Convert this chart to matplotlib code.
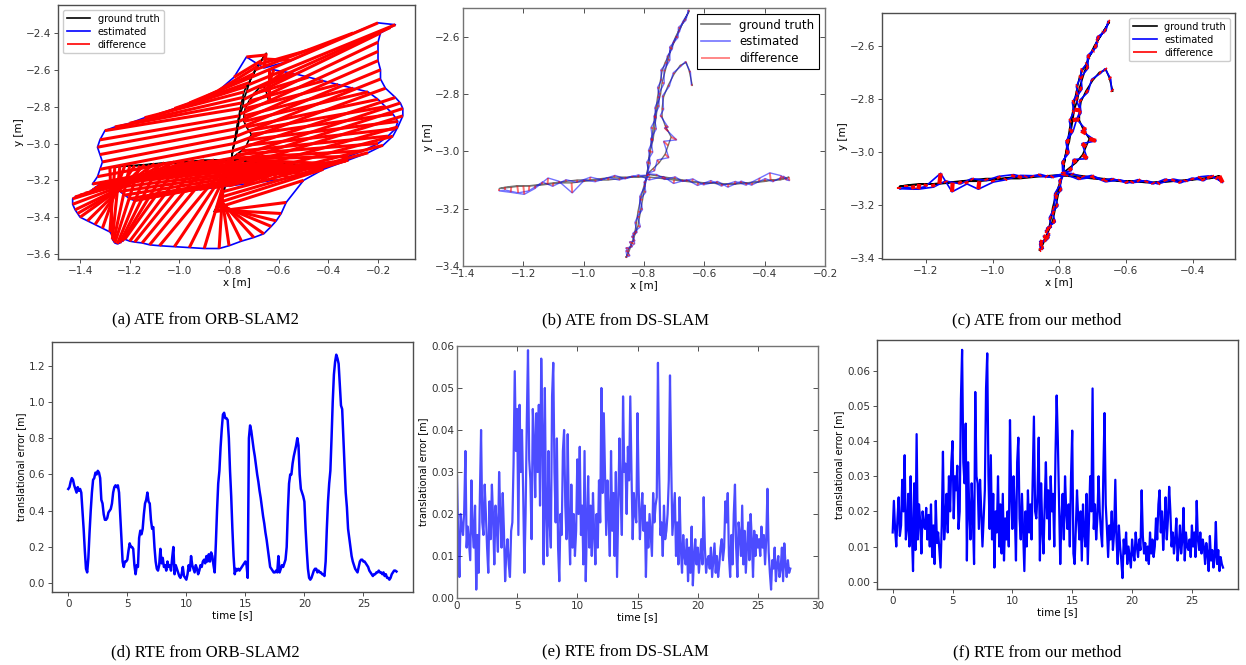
import numpy as np
import matplotlib.pyplot as plt
from matplotlib.collections import LineCollection

# ground truth trajectory shared by the three ATE plots [m]
# order: up the y-arm, down to its far end, back to the centre,
# out to the left end, across to the right end, back, then the side loop
gt_x = [-0.79, -0.785, -0.78, -0.775, -0.77, -0.765, -0.76, -0.755, -0.75, -0.745,
        -0.74, -0.73, -0.72, -0.71, -0.70, -0.685, -0.67, -0.655,
        -0.65, -0.665, -0.68, -0.695, -0.71, -0.72, -0.73, -0.74, -0.745, -0.755,
        -0.76, -0.765, -0.77, -0.78, -0.785, -0.79, -0.795, -0.80, -0.805, -0.81,
        -0.815, -0.82, -0.83, -0.84, -0.85, -0.86,
        -0.855, -0.85, -0.845, -0.84, -0.835, -0.835, -0.83, -0.825, -0.82, -0.81, -0.80, -0.79,
        -0.84, -0.88, -0.92, -0.96, -1.00, -1.04, -1.08, -1.12, -1.16, -1.20, -1.24, -1.28,
        -1.26, -1.22, -1.18, -1.14, -1.10, -1.06, -1.02, -0.98, -0.94, -0.90,
        -0.86, -0.82, -0.78, -0.74, -0.70, -0.66, -0.62, -0.58, -0.54, -0.50,
        -0.46, -0.42, -0.38, -0.35, -0.33, -0.32,
        -0.34, -0.37, -0.40, -0.44, -0.48, -0.52, -0.56, -0.60, -0.64, -0.67, -0.70, -0.73, -0.76, -0.79,
        -0.77, -0.75, -0.73, -0.72, -0.71, -0.72, -0.73, -0.74, -0.74, -0.735,
        -0.72, -0.70, -0.68, -0.66, -0.65, -0.64]
gt_y = [-3.08, -3.04, -3.00, -2.96, -2.92, -2.88, -2.85, -2.81, -2.78, -2.75,
        -2.72, -2.69, -2.67, -2.64, -2.62, -2.58, -2.55, -2.52,
        -2.51, -2.54, -2.57, -2.60, -2.64, -2.68, -2.72, -2.76, -2.80, -2.84,
        -2.88, -2.92, -2.96, -3.00, -3.04, -3.08, -3.11, -3.14, -3.17, -3.20,
        -3.23, -3.26, -3.29, -3.32, -3.35, -3.37,
        -3.36, -3.34, -3.33, -3.32, -3.31, -3.30, -3.28, -3.25, -3.21, -3.16, -3.12, -3.085,
        -3.09, -3.095, -3.10, -3.10, -3.105, -3.11, -3.11, -3.115, -3.12, -3.12, -3.125, -3.13,
        -3.125, -3.12, -3.12, -3.115, -3.11, -3.105, -3.10, -3.10, -3.095, -3.09,
        -3.09, -3.09, -3.09, -3.095, -3.10, -3.105, -3.11, -3.11, -3.115, -3.115,
        -3.11, -3.105, -3.10, -3.10, -3.095, -3.09,
        -3.095, -3.10, -3.105, -3.11, -3.11, -3.115, -3.11, -3.11, -3.105, -3.10, -3.095, -3.09, -3.085, -3.08,
        -3.06, -3.04, -3.01, -2.98, -2.95, -2.93, -2.91, -2.88, -2.85, -2.81,
        -2.77, -2.73, -2.70, -2.69, -2.72, -2.77]

# ORB-SLAM2 estimate [m]
orb_x = [-1.35, -1.33, -1.32, -1.31, -1.32, -1.33, -1.32, -1.30, -1.26, -1.20,
         -1.14, -1.08, -1.02, -0.96, -0.90, -0.84, -0.78, -0.73,
         -0.66, -0.55, -0.42, -0.30, -0.20, -0.13, -0.15, -0.19, -0.20, -0.20,
         -0.20, -0.19, -0.19, -0.17, -0.13, -0.11, -0.10, -0.10, -0.12, -0.14,
         -0.18, -0.24, -0.32, -0.42, -0.50, -0.57,
         -0.59, -0.61, -0.63, -0.66, -0.70, -0.75, -0.80, -0.84, -0.90, -0.96, -1.02, -1.08,
         -1.12, -1.15, -1.18, -1.20, -1.22, -1.23, -1.24, -1.25, -1.26, -1.265, -1.27, -1.27,
         -1.28, -1.31, -1.34, -1.37, -1.40, -1.41, -1.42, -1.43, -1.43, -1.42,
         -1.40, -1.38, -1.36, -1.35, -1.34, -1.33, -1.32, -1.30, -1.28, -1.26,
         -1.24, -1.22, -1.20, -1.18, -1.15, -1.12,
         -1.05, -0.98, -0.92, -0.86, -0.80, -0.74, -0.68, -0.62, -0.56, -0.50, -0.44, -0.38, -0.32, -0.26,
         -0.20, -0.16, -0.13, -0.12, -0.14, -0.17, -0.20, -0.24, -0.30, -0.36,
         -0.42, -0.48, -0.54, -0.58, -0.62, -0.64]
orb_y = [-3.22, -3.18, -3.14, -3.10, -3.06, -3.02, -2.98, -2.93, -2.91, -2.89,
         -2.86, -2.84, -2.81, -2.78, -2.75, -2.71, -2.64, -2.53,
         -2.59, -2.55, -2.47, -2.40, -2.345, -2.355, -2.37, -2.40, -2.45, -2.50,
         -2.55, -2.60, -2.65, -2.70, -2.75, -2.78, -2.81, -2.85, -2.91, -2.96,
         -3.01, -3.05, -3.09, -3.14, -3.20, -3.32,
         -3.38, -3.42, -3.45, -3.49, -3.51, -3.53, -3.555, -3.57, -3.57, -3.565, -3.56, -3.555,
         -3.55, -3.54, -3.535, -3.53, -3.52, -3.53, -3.54, -3.545, -3.54, -3.53, -3.52, -3.50,
         -3.48, -3.46, -3.44, -3.42, -3.40, -3.38, -3.36, -3.33, -3.30, -3.29,
         -3.28, -3.27, -3.26, -3.25, -3.24, -3.23, -3.22, -3.21, -3.22, -3.24,
         -3.26, -3.28, -3.30, -3.31, -3.30, -3.28,
         -3.27, -3.26, -3.25, -3.24, -3.23, -3.22, -3.21, -3.20, -3.19, -3.17, -3.14, -3.11, -3.07, -3.04,
         -3.00, -2.96, -2.92, -2.88, -2.84, -2.80, -2.76, -2.72, -2.70, -2.68,
         -2.66, -2.64, -2.62, -2.61, -2.60, -2.60]

# DS-SLAM estimate: deviation from ground truth [mm]
ds_dx = [0, 6, -5, 4, -7, 5, -4, 6, -5, 3, -4, 5, -3, 4, -3, 3, -2, 0,
         -3, 4, -6, 8, -5, 6, -4, 7, -6, 5, -7, 6, -8, 9, -6, 8, -5, 6, -7, 5, -6, 8, -7, 9, -10, 4,
         8, -10, 6, -8, 5, -6, 7, -5, 6, -4, 3, 0,
         2, -3, 3, -2, 3, 2, -3, 2, -2, 3, -2, 0,
         0, 3, -2, 4, -3, 2, -4, 3, -2, 4, -3, 2, -3, 4, -2, 3, -3, 2, -4, 3, -2, 4, -3, 5, 3, 2,
         3, -3, 2, -4, 3, -2, 4, -3, 2, -3, 4, -2, 3, 0,
         5, -6, 12, -15, 18, -12, 10, -6, 5, -4, 4, -3, 3, -3, 4, -3]
ds_dy = [2, -3, 4, -2, 3, -4, 2, -3, 3, -2, 4, -3, 2, -3, 2, -2, 2, 0,
         3, -3, 2, -3, 4, -2, 3, -3, 2, -4, 3, -2, 4, -3, 2, -3, 3, -2, 3, -3, 2, -3, 4, -2, 3, 2,
         -4, 3, -3, 4, -2, 3, -3, 2, -2, 3, -2, 2,
         4, -5, 8, -6, 5, -35, 6, 22, -10, -30, -18, -8,
         -10, -25, -18, 8, -12, 6, -8, 10, -4, 6, -6, 8, -10, 7, -12, 6, -9, 8, -6, 10, -8, 12, 25, 15, -5, -12,
         8, -6, 10, -8, 6, -10, 5, -7, 9, -5, 6, -8, 4, 2,
         -8, 10, -12, 15, -10, 12, -6, 5, -4, 3, -3, 4, -3, 3, -4, 3]

# our method: deviation from ground truth [mm]
our_dx = [0, -6, 5, -5, 6, -5, 4, -6, 5, -4, 4, -5, 3, -4, 3, -3, 2, 0,
          -4, 5, -7, 8, -6, 7, -5, 8, -6, 18, 12, 6, -8, 9, -7, 8, -6, 7, -8, 6, -7, 8, -8, 9, -9, 4,
          7, -9, 7, -8, 6, -7, 6, -5, 5, -4, 3, 0,
          3, -2, 3, -3, 2, -3, 3, -2, 4, -2, 3, 0,
          0, -3, 3, -2, 4, -3, 2, -4, 3, -2, 3, -3, 2, -3, 4, -2, 3, -3, 2, -4, 3, -2, 3, -3, 5, 10,
          -3, 3, -2, 4, -3, 2, -4, 3, -2, 3, -3, 2, -2, 0,
          6, -8, 14, -12, 20, -14, 10, -8, 5, -4, 6, -3, 4, -3, 4, -3]
our_dy = [3, -3, 3, -3, 3, -3, 3, -3, 3, -3, 3, -3, 3, -3, 3, -3, 2, 0,
          3, -3, 3, -3, 3, -3, 3, -3, 3, -3, 3, -3, 3, -3, 3, -3, 3, -3, 3, -3, 3, -3, 3, -3, 3, 2,
          -3, 3, -3, 3, -3, 3, -3, 3, -2, 3, -2, 2,
          -4, 6, 12, -5, -8, -30, -10, -35, 40, -10, -15, -8,
          -8, -20, -12, 6, -10, 5, -7, 8, 10, -5, 6, -6, 5, -8, 6, -7, 5, -6, 7, -5, 8, -6, 7, 10, -5, -25,
          6, -8, 7, -6, 8, -5, 6, -7, 5, -6, 7, -5, 4, 2,
          -10, 12, -15, 12, -8, 10, -6, 4, -3, 5, -4, 4, -3, 4, -4, 4]

# relative translational error, one value every 0.1 s
rte_orb = [0.52, 0.53, 0.56, 0.58, 0.57, 0.54, 0.52, 0.50, 0.53, 0.51,
           0.52, 0.50, 0.40, 0.30, 0.18, 0.08, 0.06, 0.14, 0.28, 0.40,
           0.50, 0.57, 0.58, 0.61, 0.60, 0.62, 0.61, 0.58, 0.46, 0.44,
           0.38, 0.35, 0.35, 0.36, 0.39, 0.40, 0.41, 0.44, 0.50, 0.53,
           0.54, 0.53, 0.54, 0.50, 0.38, 0.25, 0.12, 0.09, 0.12, 0.12,
           0.13, 0.18, 0.22, 0.20, 0.20, 0.19, 0.10, 0.05, 0.10, 0.09,
           0.25, 0.29, 0.27, 0.30, 0.38, 0.44, 0.46, 0.50, 0.45, 0.44,
           0.35, 0.30, 0.31, 0.20, 0.12, 0.08, 0.07, 0.10, 0.19, 0.11,
           0.14, 0.09, 0.10, 0.07, 0.12, 0.09, 0.10, 0.07, 0.14, 0.20,
           0.05, 0.10, 0.08, 0.06, 0.04, 0.03, 0.05, 0.09, 0.04, 0.03,
           0.02, 0.05, 0.10, 0.07, 0.15, 0.10, 0.08, 0.06, 0.10, 0.08,
           0.05, 0.07, 0.10, 0.09, 0.12, 0.13, 0.11, 0.15, 0.12, 0.16,
           0.12, 0.17, 0.15, 0.10, 0.06, 0.22, 0.40, 0.55, 0.62, 0.75,
           0.85, 0.93, 0.94, 0.91, 0.91, 0.90, 0.80, 0.62, 0.48, 0.30,
           0.15, 0.05, 0.08, 0.07, 0.08, 0.07, 0.08, 0.09, 0.10, 0.11,
           0.12, 0.10, 0.03, 0.80, 0.87, 0.84, 0.79, 0.74, 0.70, 0.65,
           0.60, 0.56, 0.51, 0.47, 0.42, 0.37, 0.33, 0.28, 0.24, 0.19,
           0.14, 0.09, 0.08, 0.07, 0.06, 0.06, 0.07, 0.06, 0.15, 0.06,
           0.08, 0.10, 0.09, 0.11, 0.13, 0.20, 0.40, 0.55, 0.60, 0.60,
           0.66, 0.70, 0.73, 0.76, 0.80, 0.76, 0.60, 0.52, 0.50, 0.48,
           0.45, 0.30, 0.18, 0.08, 0.03, 0.02, 0.03, 0.05, 0.07, 0.08,
           0.08, 0.06, 0.07, 0.06, 0.06, 0.05, 0.05, 0.04, 0.12, 0.30,
           0.45, 0.55, 0.62, 0.80, 1.00, 1.15, 1.22, 1.26, 1.24, 1.21,
           1.10, 0.98, 0.96, 0.80, 0.65, 0.50, 0.42, 0.30, 0.25, 0.20,
           0.15, 0.12, 0.10, 0.08, 0.07, 0.06, 0.09, 0.12, 0.13, 0.13,
           0.12, 0.12, 0.11, 0.10, 0.09, 0.07, 0.06, 0.05, 0.04, 0.05,
           0.05, 0.06, 0.06, 0.07, 0.06, 0.06, 0.05, 0.06, 0.04, 0.05,
           0.03, 0.03, 0.02, 0.03, 0.05, 0.06, 0.07, 0.07, 0.065]

rte_ds_mm = [29, 14, 5, 20, 17, 15, 21, 35, 12, 17,
             13, 9, 28, 16, 12, 22, 2, 15, 6, 24,
             40, 18, 15, 27, 20, 12, 6, 23, 14, 27,
             19, 8, 22, 17, 11, 30, 20, 12, 25, 16,
             4, 11, 14, 8, 5, 16, 18, 32, 54, 35,
             45, 15, 46, 30, 40, 25, 6, 20, 42, 59,
             33, 28, 14, 45, 38, 24, 44, 30, 46, 22,
             57, 40, 8, 50, 20, 10, 35, 18, 12, 48,
             56, 30, 18, 38, 12, 4, 20, 15, 35, 40,
             22, 14, 39, 18, 8, 27, 12, 20, 10, 16,
             33, 20, 36, 15, 22, 8, 35, 4, 18, 29,
             12, 22, 10, 25, 15, 8, 20, 12, 28, 18,
             50, 25, 44, 30, 15, 28, 20, 10, 35, 16,
             25, 10, 30, 5, 22, 38, 25, 15, 48, 30,
             32, 20, 36, 28, 48, 30, 14, 25, 20, 18,
             44, 26, 14, 20, 25, 16, 22, 5, 18, 12,
             20, 15, 10, 25, 18, 22, 24, 56, 30, 15,
             18, 10, 22, 14, 16, 20, 28, 53, 32, 15,
             20, 25, 10, 18, 8, 24, 12, 6, 15, 10,
             8, 14, 4, 12, 6, 17, 3, 10, 14, 8,
             12, 6, 10, 14, 8, 24, 12, 6, 9, 10,
             7, 12, 5, 9, 13, 6, 10, 5, 8, 12,
             14, 9, 12, 23, 18, 25, 10, 5, 15, 8,
             20, 27, 12, 5, 18, 15, 10, 22, 8, 16,
             6, 12, 18, 9, 20, 14, 5, 16, 10, 15,
             12, 14, 10, 17, 12, 15, 8, 14, 26, 11,
             6, 2, 9, 7, 12, 4, 8, 10, 5, 7,
             12, 4, 13, 8, 5, 9, 6, 7]

rte_our_mm = [14, 23, 15, 10, 18, 24, 13, 16, 29, 20,
              36, 12, 15, 25, 10, 30, 14, 3, 28, 9,
              42, 12, 22, 17, 8, 20, 16, 15, 21, 12,
              19, 10, 22, 7, 16, 5, 23, 11, 14, 9,
              4, 16, 37, 12, 18, 25, 14, 30, 20, 34,
              40, 18, 30, 26, 33, 15, 20, 52, 66, 34,
              28, 45, 6, 34, 20, 12, 28, 18, 5, 54,
              30, 28, 15, 29, 20, 10, 18, 26, 55, 65,
              30, 15, 36, 12, 25, 4, 20, 14, 30, 10,
              22, 8, 25, 6, 18, 12, 20, 10, 46, 25,
              15, 30, 20, 6, 34, 41, 18, 12, 25, 14,
              3, 20, 10, 26, 14, 22, 12, 30, 47, 20,
              18, 25, 41, 6, 28, 15, 8, 22, 34, 18,
              26, 12, 30, 20, 25, 10, 36, 53, 40, 22,
              5, 18, 25, 12, 30, 20, 15, 22, 10, 30,
              43, 8, 5, 15, 26, 18, 12, 20, 6, 22,
              14, 10, 25, 5, 18, 30, 20, 55, 15, 22,
              12, 18, 30, 20, 14, 10, 31, 48, 22, 15,
              7, 16, 12, 20, 9, 14, 29, 12, 5, 16,
              10, 6, 1, 12, 8, 14, 5, 10, 7, 4,
              12, 8, 6, 14, 10, 7, 12, 9, 26, 13,
              8, 11, 6, 10, 5, 14, 8, 12, 7, 10,
              18, 12, 22, 26, 14, 20, 9, 16, 24, 12,
              18, 27, 20, 10, 14, 8, 12, 18, 6, 10,
              16, 8, 12, 21, 6, 14, 10, 9, 12, 7,
              16, 10, 14, 7, 23, 12, 9, 14, 8, 12,
              10, 5, 11, 8, 3, 13, 6, 9, 4, 7,
              17, 5, 9, 3, 7, 5, 4]

captions = ['(a) ATE from ORB-SLAM2', '(b) ATE from DS-SLAM', '(c) ATE from our method',
            '(d) RTE from ORB-SLAM2', '(e) RTE from DS-SLAM', '(f) RTE from our method']

W, H = 1246, 665
fig = plt.figure(figsize=(W / 100, H / 100), dpi=100)


def box(l, t, r, b):
    return [l / W, 1 - b / H, (r - l) / W, (b - t) / H]


def style(ax, classic=False):
    for s in ax.spines.values():
        s.set_color('0.3' if not classic else '0.45')
        s.set_linewidth(1.0)
    if classic:
        ax.tick_params(direction='in', top=True, right=True, length=3.5, width=0.6,
                       labelsize=7.5, colors='0.2', pad=2)
    else:
        ax.tick_params(length=3, width=0.6, labelsize=7.5, colors='0.2', pad=2)


def ate(ax, ex, ey, classic=False, lw=1.0, dlw=1.0, alpha=1.0, loc='upper left'):
    gx, gy = np.array(gt_x), np.array(gt_y)
    ax.plot(gx, gy, color='k', lw=lw, alpha=alpha, label='ground truth', zorder=1)
    ax.plot(ex, ey, color='b', lw=lw, alpha=alpha, label='estimated', zorder=2)
    segs = np.stack([np.column_stack([ex, ey]), np.column_stack([gx, gy])], axis=1)
    lc = LineCollection(segs, colors='r', linewidths=dlw, alpha=alpha,
                        label='difference', zorder=3)
    ax.add_collection(lc)
    ax.set_xlabel('x [m]', fontsize=7.5, labelpad=1)
    ax.set_ylabel('y [m]', fontsize=7.5, labelpad=1)
    style(ax, classic)
    leg = ax.legend(loc=loc, fontsize=7 if not classic else 8.5, handlelength=2.4,
                    fancybox=not classic, framealpha=1,
                    borderpad=0.4, labelspacing=0.3)
    leg.set_zorder(5)
    if classic:
        leg.get_frame().set_edgecolor('k')
        leg.get_frame().set_linewidth(0.8)
    for h in leg.legend_handles:
        h.set_linewidth(1.2)


# (a)
ax = fig.add_axes(box(58, 5, 415, 259))
ate(ax, np.array(orb_x), np.array(orb_y), lw=1.2, dlw=2.2)
ax.set_xlim(-1.489, -0.051)
ax.set_ylim(-3.627, -2.248)
ax.set_xticks(np.arange(-1.4, -0.1, 0.2))
ax.set_yticks(np.arange(-3.6, -2.3, 0.2))

# (b)
ax = fig.add_axes(box(463, 8, 825, 266))
ate(ax, np.array(gt_x) + np.array(ds_dx) / 1000, np.array(gt_y) + np.array(ds_dy) / 1000,
    classic=True, lw=1.0, dlw=1.4, alpha=0.55, loc='upper right')
ax.set_xlim(-1.4, -0.2)
ax.set_ylim(-3.4, -2.5)
ax.set_xticks(np.arange(-1.4, -0.1, 0.2))
ax.set_yticks(np.arange(-3.4, -2.5, 0.2))

# (c)
ax = fig.add_axes(box(882, 13, 1235, 259))
ate(ax, np.array(gt_x) + np.array(our_dx) / 1000, np.array(gt_y) + np.array(our_dy) / 1000,
    lw=1.2, dlw=3.0, loc='upper right')
ax.set_xlim(-1.332, -0.273)
ax.set_ylim(-3.403, -2.476)
ax.set_xticks(np.arange(-1.2, -0.3, 0.2))
ax.set_yticks(np.arange(-3.4, -2.5, 0.2))

# (d)
ax = fig.add_axes(box(52, 342, 413, 592))
t = np.arange(len(rte_orb)) * 0.1
ax.plot(t, rte_orb, color='b', lw=1.8)
ax.set_xlim(-1.38, 29.2)
ax.set_ylim(-0.048, 1.33)
ax.set_xticks(range(0, 26, 5))
ax.set_yticks(np.arange(0, 1.21, 0.2))

# (e)
ax = fig.add_axes(box(457, 346, 818, 598))
t = np.arange(len(rte_ds_mm)) * 0.1
ax.plot(t, np.array(rte_ds_mm) / 1000, color='b', lw=1.6, alpha=0.7)
ax.set_xlim(0, 30)
ax.set_ylim(0, 0.06)
ax.set_xticks(range(0, 31, 5))
ax.set_yticks(np.arange(0, 0.061, 0.01))

# (f)
ax = fig.add_axes(box(877, 340, 1238, 589))
t = np.arange(len(rte_our_mm)) * 0.1
ax.plot(t, np.array(rte_our_mm) / 1000, color='b', lw=1.6)
ax.set_xlim(-1.31, 28.85)
ax.set_ylim(-0.0021, 0.0688)
ax.set_xticks(range(0, 26, 5))
ax.set_yticks(np.arange(0, 0.061, 0.01))

for i, ax in enumerate(fig.axes[3:]):
    style(ax, classic=(i == 1))
    ax.set_xlabel('time [s]', fontsize=7.5, labelpad=1)
    ax.set_ylabel('translational error [m]', fontsize=7, labelpad=2)
fig.axes[4].yaxis.set_major_formatter(plt.FormatStrFormatter('%.2f'))
fig.axes[5].yaxis.set_major_formatter(plt.FormatStrFormatter('%.2f'))

for i, cap in enumerate(captions):
    x = [205, 625, 1037][i % 3]
    y = [320, 652][i // 3]
    fig.text(x / W, 1 - y / H, cap, ha='center', va='center',
             fontsize=12, family='Liberation Serif')

fig.savefig('out.png', dpi=100)
